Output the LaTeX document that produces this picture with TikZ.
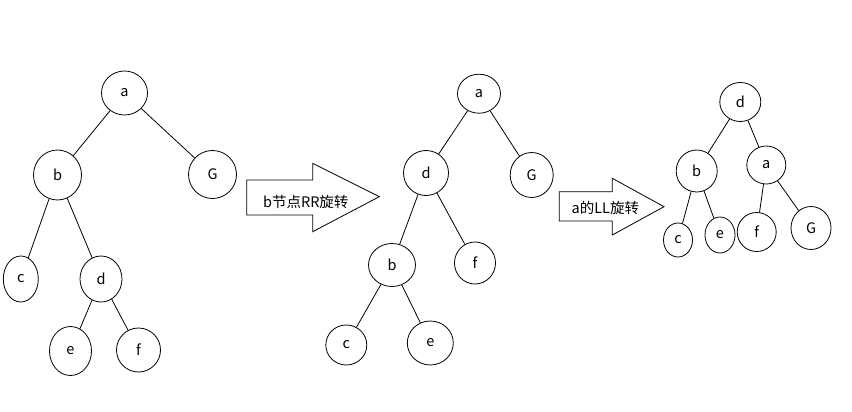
\documentclass[tikz,border=0pt]{standalone}
\usepackage{fontspec}
\setmainfont{Noto Sans CJK SC}
\usetikzlibrary{shapes.geometric}

\begin{document}
\begin{tikzpicture}[x=1pt, y=-1pt, font=\fontsize{14.5}{17}\selectfont]
  \tikzstyle{v}=[ellipse, draw, line width=0.8pt, inner sep=0pt]
  \tikzstyle{ln}=[line width=0.8pt]
  \useasboundingbox (0,0) rectangle (852,412);

  % tree before the rotation
  \node[v, minimum width=46, minimum height=44] (a1) at (124.5,93) {a};
  \node[v, minimum width=48, minimum height=50] (b1) at (57.5,175) {b};
  \node[v, minimum width=48, minimum height=48] (G1) at (212.5,174.5) {G};
  \node[v, minimum width=35, minimum height=46] (c1) at (20.8,279) {c};
  \node[v, minimum width=42, minimum height=46] (d1) at (101,279) {d};
  \node[v, minimum width=42, minimum height=49] (e1) at (70.5,351) {e};
  \node[v, minimum width=44, minimum height=44] (f1) at (138.5,350) {f};

  \draw[ln] (a1) -- (b1);
  \draw[ln] (a1) -- (G1);
  \draw[ln] (b1) -- (c1);
  \draw[ln] (b1) -- (d1);
  \draw[ln] (d1) -- (e1);
  \draw[ln] (d1) -- (f1);

  % first arrow
  \draw[ln] (246.7,180) -- (312.7,180) -- (312.7,163.3) -- (379.3,196.7)
    -- (312.7,231.7) -- (312.7,215) -- (246.7,215) -- cycle;
  \node (t1) at (305.8,201.7) {b节点RR旋转};

  % tree after the RR rotation of b
  \node[v, minimum width=43, minimum height=39] (a2) at (479,93.7) {a};
  \node[v, minimum width=45, minimum height=45] (d2) at (426,173) {d};
  \node[v, minimum width=43, minimum height=45] (G2) at (531.7,175) {G};
  \node[v, minimum width=47, minimum height=43] (b2) at (392,265) {b};
  \node[v, minimum width=41, minimum height=42] (f2) at (475,263) {f};
  \node[v, minimum width=41, minimum height=40] (c2) at (346.3,345) {c};
  \node[v, minimum width=46, minimum height=44] (e2) at (430.3,343) {e};

  \draw[ln] (a2) -- (d2);
  \draw[ln] (a2) -- (G2);
  \draw[ln] (d2) -- (b2);
  \draw[ln] (d2) -- (f2);
  \draw[ln] (b2) -- (c2);
  \draw[ln] (b2) -- (e2);

  % second arrow
  \draw[ln] (559.3,191.7) -- (612.3,191.7) -- (612.3,178.3) -- (664,206.7)
    -- (612.3,235) -- (612.3,221) -- (559.3,221) -- cycle;
  \node (t2) at (605.3,208.3) {a的LL旋转};

  % tree after the LL rotation of a
  \node[v, minimum width=41, minimum height=39] (d3) at (740.3,102) {d};
  \node[v, minimum width=41, minimum height=42] (b3) at (696.7,171) {b};
  \node[v, minimum width=39, minimum height=38] (a3) at (766.3,165) {a};
  \node[v, minimum width=29, minimum height=34] (c3) at (678,240) {c};
  \node[v, minimum width=30, minimum height=36] (e3) at (720,235) {e};
  \node[v, minimum width=39, minimum height=39] (f3) at (756.7,232) {f};
  \node[v, minimum width=40, minimum height=43] (G3) at (811,228) {G};

  \draw[ln] (d3) -- (b3);
  \draw[ln] (d3) -- (a3);
  \draw[ln] (b3) -- (c3);
  \draw[ln] (b3) -- (e3);
  \draw[ln] (a3) -- (f3);
  \draw[ln] (a3) -- (G3);
\end{tikzpicture}
\end{document}
